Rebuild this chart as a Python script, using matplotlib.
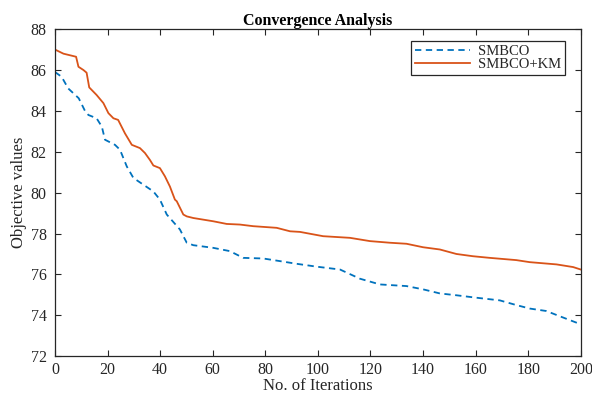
import matplotlib
matplotlib.use("Agg")
import matplotlib.pyplot as plt

# Data
smbco_iter = [0, 2.5, 5, 9, 11.5, 12.7, 15.8, 17.8, 19, 22.8, 24.7, 27.3, 29.8, 33.6, 37.4,
              39.9, 42.5, 47.5, 50.1, 52.6, 60.2, 66.5, 71.6, 79.2, 85.6, 91.9, 99.5, 108.4,
              116, 123.6, 133.7, 140, 146.4, 152.7, 160.3, 169.2, 175.5, 180.6, 186.9, 193.3, 200]
smbco_vals = [85.9, 85.67, 85.1, 84.62, 83.97, 83.8, 83.64, 83.23, 82.59, 82.34, 82.1, 81.28,
              80.72, 80.39, 80.06, 79.66, 78.93, 78.2, 77.55, 77.43, 77.3, 77.14, 76.81, 76.78,
              76.65, 76.52, 76.38, 76.24, 75.79, 75.51, 75.43, 75.27, 75.07, 74.98, 74.86,
              74.73, 74.5, 74.33, 74.21, 73.89, 73.56]

km_iter = [0, 3.2, 8, 8.9, 10.8, 12, 13, 15.8, 18.4, 20.3, 22.2, 24, 26.6, 29.2, 32.3, 34.2,
           36.1, 37.4, 39.9, 41.8, 43.7, 45.6, 46.3, 48.8, 50.1, 52.6, 60.2, 65.3, 70.3, 75.4,
           84.3, 89.4, 93.2, 102, 112.2, 119.8, 127.4, 133.7, 140, 146.4, 152.7, 159, 165.4,
           175.5, 180.6, 190.8, 197.1, 200]
km_vals = [87.0, 86.8, 86.65, 86.16, 86.0, 85.87, 85.15, 84.78, 84.38, 83.89, 83.64, 83.56,
           82.9, 82.34, 82.18, 81.94, 81.6, 81.33, 81.2, 80.8, 80.3, 79.66, 79.58, 78.93,
           78.84, 78.76, 78.6, 78.47, 78.44, 78.36, 78.28, 78.11, 78.08, 77.87, 77.79, 77.63,
           77.55, 77.5, 77.33, 77.22, 77.0, 76.89, 76.81, 76.7, 76.6, 76.49, 76.36, 76.24]

x_ticks = [0, 20, 40, 60, 80, 100, 120, 140, 160, 180, 200]
y_ticks = [72, 74, 76, 78, 80, 82, 84, 86, 88]

plt.rcParams['font.family'] = ['Liberation Serif', 'DejaVu Serif']

fig = plt.figure(figsize=(5.92, 3.94), dpi=100)
ax = fig.add_axes([0.093, 0.096, 0.888, 0.830])

ax.plot(smbco_iter, smbco_vals, linestyle=(0, (3.5, 2.5)), color='#0072BD', lw=1.3, label='SMBCO')
ax.plot(km_iter, km_vals, linestyle='-', color='#D95319', lw=1.3, label='SMBCO+KM')

ax.set_xlim(0, 200)
ax.set_ylim(72, 88)
ax.set_xticks(x_ticks)
ax.set_yticks(y_ticks)
ax.tick_params(direction='in', top=True, right=True, labelsize=11.5, length=4,
               color='#262626', labelcolor='#262626', width=0.8)
ax.tick_params(axis='x', pad=4)
ax.tick_params(axis='y', pad=6)
for s in ax.spines.values():
    s.set_color('#262626')
    s.set_linewidth(0.9)

ax.set_title('Convergence Analysis', fontsize=11.5, fontweight='bold', pad=3)
ax.set_xlabel('No. of Iterations', fontsize=12, color='#262626', labelpad=0)
ax.set_ylabel('Objective values', fontsize=12, color='#262626', labelpad=3)

leg = ax.legend(loc='upper right', fontsize=10.5, frameon=True, fancybox=False,
                edgecolor='#262626', framealpha=1, borderpad=0.25, labelspacing=0.0,
                handlelength=3.8, handletextpad=0.5, bbox_to_anchor=(0.983, 0.985))
leg.get_frame().set_linewidth(0.9)
for t in leg.get_texts():
    t.set_color('#262626')

fig.savefig('out.png', dpi=100)
